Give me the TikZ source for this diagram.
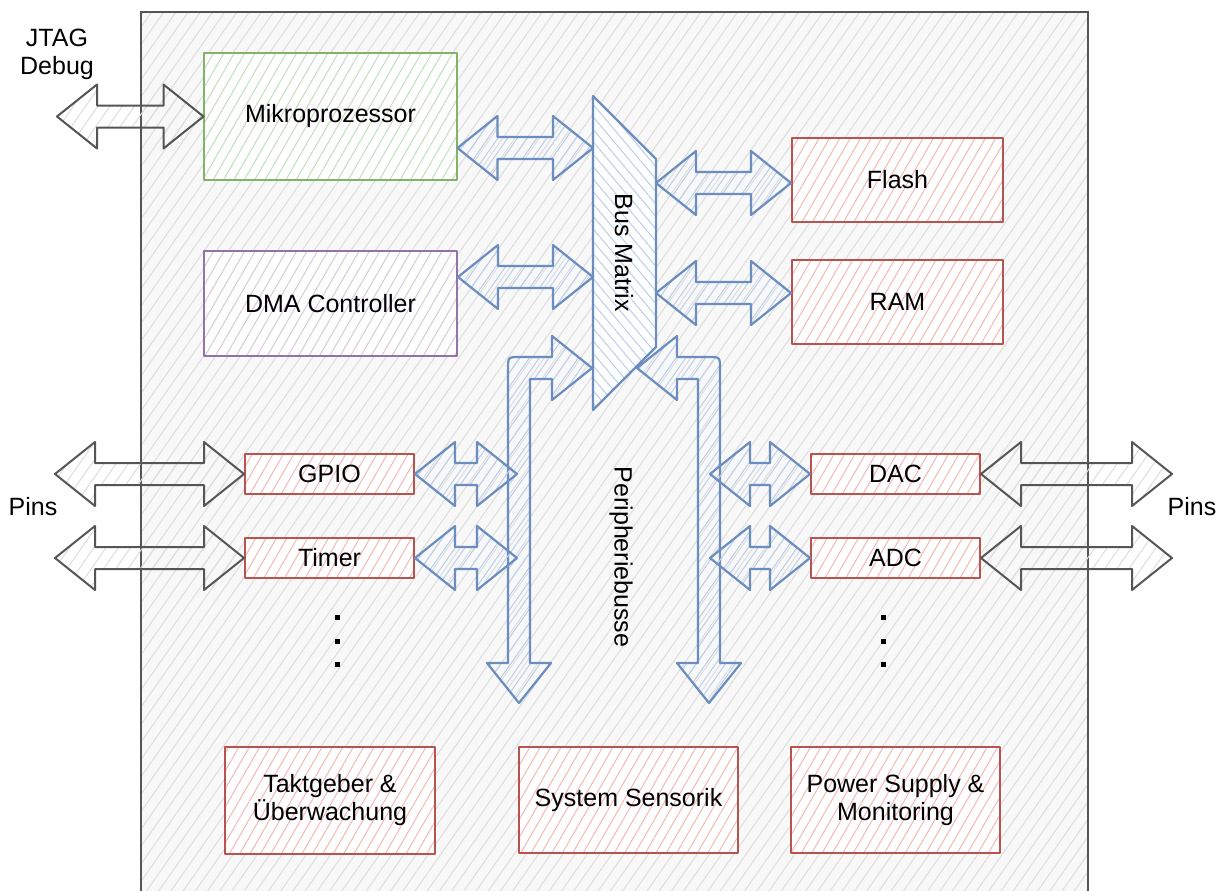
\documentclass[tikz,border=0pt]{standalone}
\usepackage{fontspec}
\setmainfont{Liberation Sans}
\usetikzlibrary{calc,patterns.meta}
\definecolor{bstroke}{HTML}{6C8EBF}
\definecolor{bhatch}{HTML}{B9CFEE}
\definecolor{rstroke}{HTML}{B85450}
\definecolor{rhatch}{HTML}{F4B9B6}
\definecolor{gstroke}{HTML}{82B366}
\definecolor{ghatch}{HTML}{C3DEBE}
\definecolor{pstroke}{HTML}{9673A6}
\definecolor{phatch}{HTML}{D8C8E0}
\definecolor{kstroke}{HTML}{555555}
\definecolor{khatch}{HTML}{DDDDDD}
\definecolor{bgfill}{HTML}{F8F8F8}
\tikzset{
  lbl/.style={font=\fontsize{25}{28}\selectfont, align=center, text=black, inner sep=0pt},
  box/.style={lbl, draw=#1stroke, line width=2pt, line join=round, preaction={fill=white},
    pattern={Lines[angle=60,distance=9pt,line width=1pt]}, pattern color=#1hatch},
  outerbox/.style={draw=kstroke, line width=2pt, preaction={fill=bgfill},
    pattern={Lines[angle=55,distance=10pt,line width=1pt]}, pattern color=khatch, inner sep=0pt},
  bluearrow/.style={draw=bstroke, line width=2.2pt, line join=round,
    pattern={Lines[angle=55,distance=8pt,line width=1pt]}, pattern color=bhatch},
  grayarrow/.style={draw=kstroke, line width=2pt, line join=round,
    pattern={Lines[angle=55,distance=10pt,line width=1pt]}, pattern color=khatch},
  bmshape/.style={draw=bstroke, line width=2.2pt, line join=round, preaction={fill=white},
    pattern={Lines[angle=-50,distance=8pt,line width=1pt]}, pattern color=bhatch},
  dotmark/.style={fill=black, minimum size=5pt, inner sep=0pt},
}
\newcommand{\HArrow}[3]{%
  \coordinate (hA) at (#2); \coordinate (hB) at (#3);
  \draw[#1] (hA) -- ($(hA)+(40,-32)$) -- ($(hA)+(40,-11)$) -- ($(hB)+(-40,-11)$)
    -- ($(hB)+(-40,-32)$) -- (hB) -- ($(hB)+(-40,32)$) -- ($(hB)+(-40,11)$)
    -- ($(hA)+(40,11)$) -- ($(hA)+(40,32)$) -- cycle;}
\begin{document}
\begin{tikzpicture}[x=1pt,y=-1pt]
\path[use as bounding box] (0,0) rectangle (1221,891);
\clip (0,0) rectangle (1221,891);

% chip outline
\node[outerbox, anchor=north west, minimum width=947pt, minimum height=900pt] (chip) at (140,12) {};

% bus matrix coordinates
\coordinate (bmTL) at (593,96);
\coordinate (bmTR) at (656,159);
\coordinate (bmBR) at (656,347);
\coordinate (bmBL) at (593,410);
\coordinate (bmMP) at (593,148);
\coordinate (bmDMA) at (593,277);
\coordinate (bmFl) at (656,183);
\coordinate (bmRAM) at (656,293);
\coordinate (bmPL) at (592,368);
\coordinate (bmPR) at (637,368);
\coordinate (busL) at (517,0);
\coordinate (busR) at (710,0);

% peripheral buses
\draw[bluearrow] (bmPL) -- (552,336) -- (552,357) -- (520,357) .. controls (508,357) .. (508,369)
  -- (508,663) -- (487,663) -- (519,703) -- (551,663) -- (530,663) -- (530,379) -- (552,379)
  -- (552,400) -- cycle;
\draw[bluearrow] (bmPR) -- (677,336) -- (677,357) -- (708,357) .. controls (720,357) .. (720,369)
  -- (720,663) -- (741,663) -- (709,703) -- (677,663) -- (698,663) -- (698,379) -- (677,379)
  -- (677,400) -- cycle;

% bus matrix
\draw[bmshape] (bmTL) -- (bmTR) -- (bmBR) -- (bmBL) -- cycle;
\node[lbl, rotate=-90] (bm) at (624,253) {Bus Matrix};
\node[lbl, rotate=-90] (pb) at (621,557) {Peripheriebusse};

% nodes
\node[box=g, minimum width=253pt, minimum height=127pt] (mp) at (330.5,116.5) {Mikroprozessor};
\node[box=p, minimum width=253pt, minimum height=105pt] (dma) at (330.5,303.5) {DMA Controller};
\node[box=r, minimum width=211pt, minimum height=84pt] (fl) at (897.5,180) {Flash};
\node[box=r, minimum width=211pt, minimum height=84pt] (ram) at (897.5,302) {RAM};
\node[box=r, minimum width=169pt, minimum height=40pt] (gpio) at (329.5,474) {GPIO};
\node[box=r, minimum width=169pt, minimum height=40pt] (timer) at (329.5,558) {Timer};
\node[box=r, minimum width=169pt, minimum height=40pt] (dac) at (895.5,474) {DAC};
\node[box=r, minimum width=169pt, minimum height=40pt] (adc) at (895.5,558) {ADC};
\node[box=r, minimum width=210pt, minimum height=107pt] (takt) at (330,800.5) {Taktgeber \&\\Überwachung};
\node[box=r, minimum width=219pt, minimum height=106pt] (sens) at (628.5,800) {System Sensorik};
\node[box=r, minimum width=209pt, minimum height=106pt] (pwr) at (895.5,800) {Power Supply \&\\Monitoring};

% free ends
\coordinate (jtagtip) at (57,116.5);
\coordinate (pinL1) at (55,474);
\coordinate (pinL2) at (55,558);
\coordinate (pinR1) at (1172,474);
\coordinate (pinR2) at (1172,558);

% arrows
\HArrow{grayarrow}{jtagtip}{mp.west}
\HArrow{bluearrow}{mp.east |- bmMP}{bmMP}
\HArrow{bluearrow}{dma.east |- bmDMA}{bmDMA}
\HArrow{bluearrow}{bmFl}{fl.west |- bmFl}
\HArrow{bluearrow}{bmRAM}{ram.west |- bmRAM}
\HArrow{grayarrow}{pinL1}{gpio.west}
\HArrow{grayarrow}{pinL2}{timer.west}
\HArrow{grayarrow}{dac.east}{pinR1}
\HArrow{grayarrow}{adc.east}{pinR2}
\HArrow{bluearrow}{gpio.east}{busL |- gpio.east}
\HArrow{bluearrow}{timer.east}{busL |- timer.east}
\HArrow{bluearrow}{busR |- dac.west}{dac.west}
\HArrow{bluearrow}{busR |- adc.west}{adc.west}

% dots
\node[dotmark] (dl1) at (337,617) {};
\node[dotmark] (dl2) at (337,641) {};
\node[dotmark] (dl3) at (337,664) {};
\node[dotmark] (dr1) at (883,617) {};
\node[dotmark] (dr2) at (883,641) {};
\node[dotmark] (dr3) at (883,664) {};

% labels
\node[lbl] (jtag) at (57,54) {JTAG\\Debug};
\node[lbl] (pinsL) at (33,507) {Pins};
\node[lbl] (pinsR) at (1192,507) {Pins};
\end{tikzpicture}
\end{document}
